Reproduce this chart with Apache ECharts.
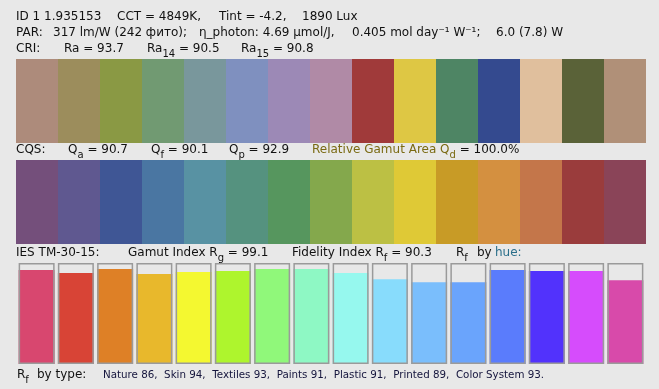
<!DOCTYPE html>
<html><head><meta charset="utf-8">
<script src="https://cdn.jsdelivr.net/npm/echarts@6/dist/echarts.min.js"></script>
<style>html,body{margin:0;padding:0;background:#e8e8e8}#c{width:659px;height:389px}</style>
</head><body><div id="c"></div>
<script>
// ---- data ----
const criLabels = ['TCS01','TCS02','TCS03','TCS04','TCS05','TCS06','TCS07','TCS08','TCS09','TCS10','TCS11','TCS12','TCS13','TCS14','TCS15'];
const criColors = ['#ad8b7b','#9c8d5c','#8a9944','#719a72','#79979c','#7f90bf','#9c89b6','#b08aa6','#a03a3a','#dec744','#4e8564','#344a8f','#e0bf9d','#5a6238','#b09078'];
const cqsLabels = ['VS1','VS2','VS3','VS4','VS5','VS6','VS7','VS8','VS9','VS10','VS11','VS12','VS13','VS14','VS15'];
const cqsColors = ['#744f7b','#5f5890','#3f5695','#4a76a2','#5892a3','#55927f','#56965e','#84a84c','#bcc044','#dfc936','#c89b26','#d49040','#c4764a','#9a3c3c','#8a4458'];
const hueBins = ['1','2','3','4','5','6','7','8','9','10','11','12','13','14','15','16'];
const rfByHue = [93, 90, 94, 89, 91, 92, 94, 94, 90, 84, 81, 81, 93, 92, 92, 83];
const hueColors = ['#d8476f','#d84436','#de8026','#e8b82c','#f4f830','#aef52d','#90f87a','#8ef8c4','#96f8ee','#88dcfc','#7abefc','#6aa4fc','#5a7cfc','#5232fc','#d64cfc','#d84aaa'];

const FONT = '"DejaVu Sans", Verdana, sans-serif';
const ctx = document.createElement('canvas').getContext('2d');
function w(t, size){ ctx.font = size + 'px ' + FONT; return ctx.measureText(t).width; }

const elements = [];
function line(y, segs){
  let x = 0;
  segs.forEach(s => {
    if (s.x !== undefined) x = s.x;
    const size = s.size || (s.sub ? 10 : 12);
    elements.push({type:'text', silent:true, style:{
      text: s.t, x: x, y: y + (s.sub ? 5 : 0), font: size + 'px ' + FONT,
      fill: s.c || '#111', textAlign:'left', textVerticalAlign:'middle'}});
    x += w(s.t, size);
  });
}
line(17, [{t:'ID 1 1.935153', x:16},{t:'CCT = 4849K,', x:117},{t:'Tint = -4.2,', x:219},{t:'1890 Lux', x:302}]);
line(33, [{t:'PAR:', x:16},{t:'317 lm/W (242 фито);', x:53},{t:'η_photon: 4.69 µmol/J,', x:199},{t:'0.405 mol day⁻¹ W⁻¹;', x:352},{t:'6.0 (7.8) W', x:496}]);
line(49, [{t:'CRI:', x:16},{t:'Ra = 93.7', x:64},{t:'Ra', x:147},{t:'14', sub:true},{t:' = 90.5'},{t:'Ra', x:241},{t:'15', sub:true},{t:' = 90.8'}]);
line(150, [{t:'CQS:', x:16},{t:'Q', x:68},{t:'a', sub:true},{t:' = 90.7'},{t:'Q', x:151},{t:'f', sub:true},{t:' = 90.1'},{t:'Q', x:229},{t:'p', sub:true},{t:' = 92.9'},
  {t:'Relative Gamut Area Q', x:312, c:'#7a6a12'},{t:'d', sub:true, c:'#7a6a12'},{t:' = 100.0%'}]);
line(253, [{t:'IES TM-30-15:', x:16},{t:'Gamut Index R', x:128},{t:'g', sub:true},{t:' = 99.1'},{t:'Fidelity Index R', x:292},{t:'f', sub:true},{t:' = 90.3'},
  {t:'R', x:456},{t:'f', sub:true},{t:'by', x:477},{t:'hue:', x:495, c:'#2a6f8a'}]);
line(375, [{t:'R', x:17},{t:'f', sub:true},{t:'by type:', x:37},
  {t:'Nature 86,  Skin 94,  Textiles 93,  Paints 91,  Plastic 91,  Printed 89,  Color System 93.', x:103, size:10.3, c:'#14143c'}]);

const hiddenY = (i, max) => ({type:'value', gridIndex:i, min:0, max:max, show:false});
const catX = (i, data) => ({type:'category', gridIndex:i, data:data, show:false, boundaryGap:true});

const option = {
  backgroundColor:'#e8e8e8',
  animation:false,
  grid:[
    {left:16, top:59, width:630, height:84},
    {left:16, top:160, width:630, height:84},
    {left:17, top:263, width:628, height:101}
  ],
  xAxis:[catX(0, criLabels), catX(1, cqsLabels), catX(2, hueBins)],
  yAxis:[hiddenY(0,1), hiddenY(1,1), hiddenY(2,100)],
  series:[
    {type:'bar', xAxisIndex:0, yAxisIndex:0, barCategoryGap:0, silent:true,
     data: criColors.map(c => ({value:1, itemStyle:{color:c}}))},
    {type:'bar', xAxisIndex:1, yAxisIndex:1, barCategoryGap:0, silent:true,
     data: cqsColors.map(c => ({value:1, itemStyle:{color:c}}))},
    {type:'bar', xAxisIndex:2, yAxisIndex:2, barWidth:36, silent:true, z:2,
     data: rfByHue.map((v,i) => ({value:v, itemStyle:{color:hueColors[i]}}))},
    {type:'bar', xAxisIndex:2, yAxisIndex:2, barWidth:36, barGap:'-100%', silent:true, z:3,
     itemStyle:{color:'rgba(0,0,0,0)', borderColor:'#9a9a9a', borderWidth:1.5},
     data: hueBins.map(() => 100)}
  ],
  graphic: elements
};
const chart = echarts.init(document.getElementById('c'), null, {renderer:'canvas'});
chart.setOption(option);
</script></body></html>
